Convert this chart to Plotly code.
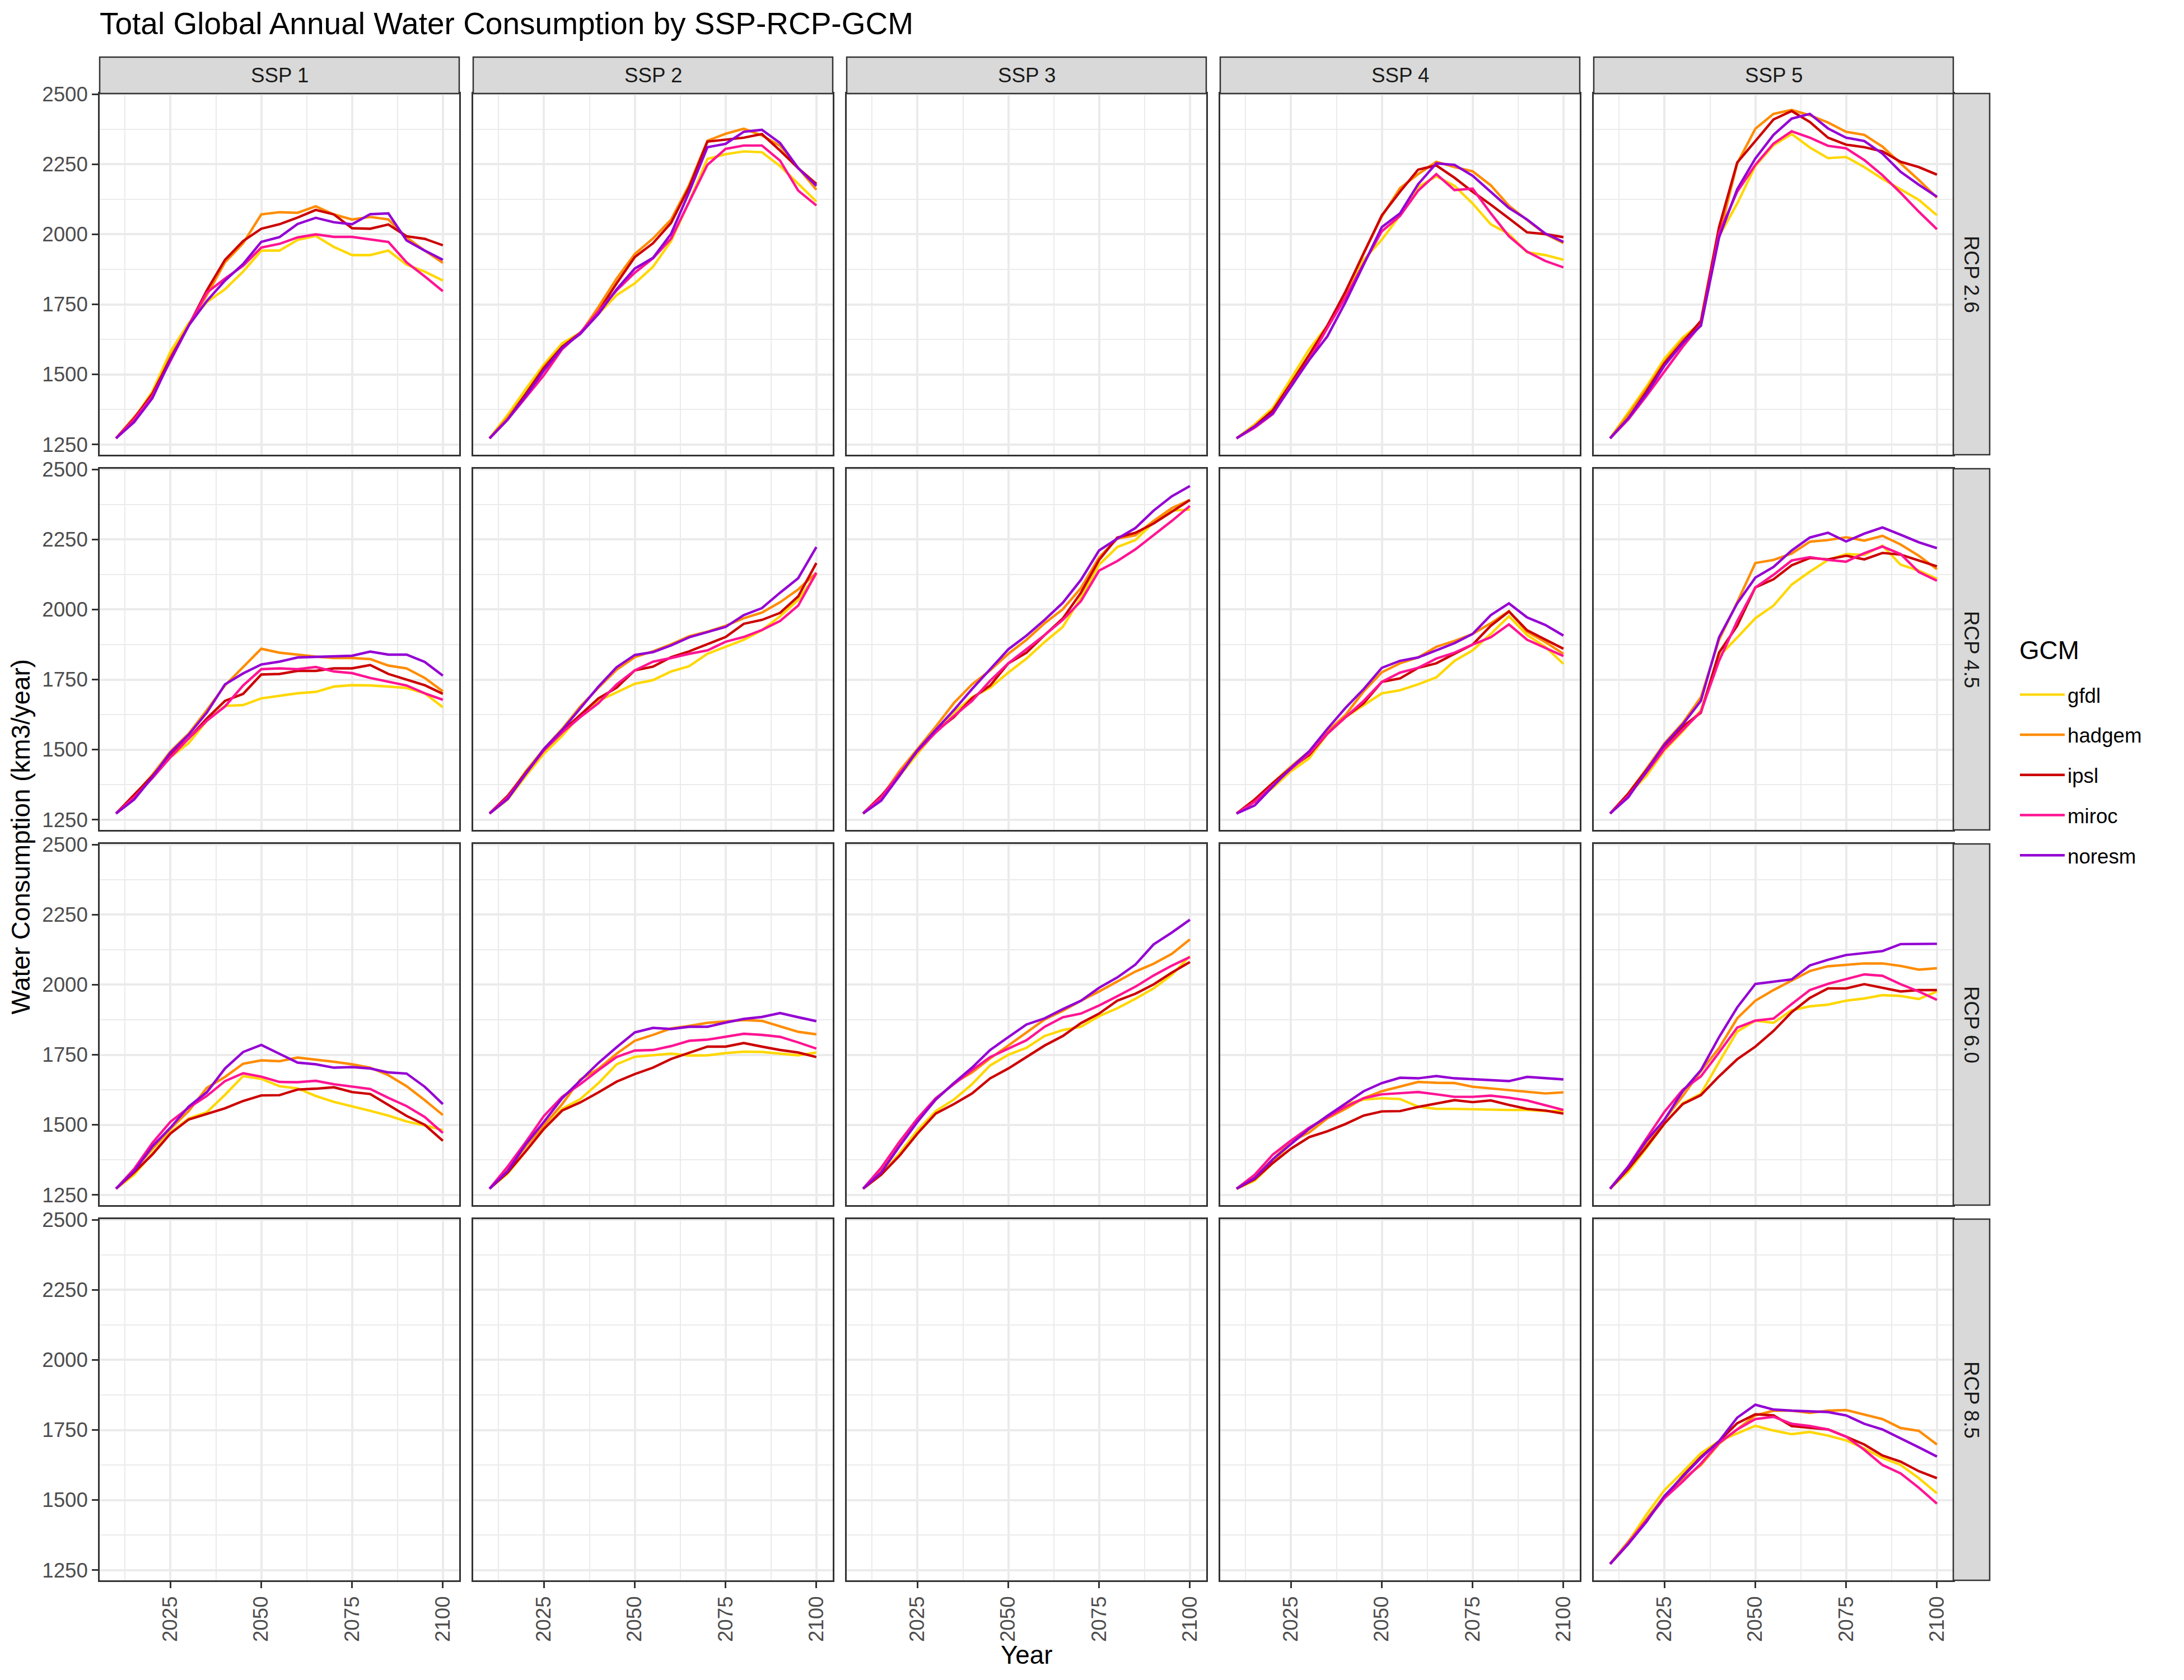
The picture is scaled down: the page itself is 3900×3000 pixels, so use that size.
import plotly.graph_objects as go

# ---------------- data ----------------
years = list(range(2010, 2101, 5))
gcms = ["gfdl", "hadgem", "ipsl", "miroc", "noresm"]
gcm_colors = ["#FFD700", "#FF8C00", "#CC0000", "#FF1493", "#9400D3"]
ssps = ["SSP 1", "SSP 2", "SSP 3", "SSP 4", "SSP 5"]
rcps = ["RCP 2.6", "RCP 4.5", "RCP 6.0", "RCP 8.5"]
x_ticks = [2025, 2050, 2075, 2100]
x_minor = [2012.5, 2037.5, 2062.5, 2087.5]
y_ticks = [1250, 1500, 1750, 2000, 2250, 2500]
y_minor = [1375, 1625, 1875, 2125, 2375]

# RCP 2.6
ssp1_rcp26_gfdl = [1272, 1343, 1439, 1582, 1683, 1758, 1804, 1867, 1942, 1942, 1980, 1994, 1955, 1926, 1926, 1942, 1892, 1867, 1835]
ssp1_rcp26_hadgem = [1272, 1347, 1423, 1565, 1674, 1783, 1900, 1968, 2071, 2079, 2077, 2100, 2071, 2053, 2062, 2053, 1989, 1942, 1898]
ssp1_rcp26_ipsl = [1272, 1343, 1431, 1557, 1674, 1800, 1909, 1976, 2020, 2036, 2060, 2087, 2071, 2022, 2020, 2035, 1993, 1984, 1961]
ssp1_rcp26_miroc = [1272, 1339, 1423, 1548, 1674, 1792, 1842, 1888, 1953, 1966, 1989, 2000, 1991, 1991, 1983, 1973, 1900, 1850, 1797]
ssp1_rcp26_noresm = [1272, 1330, 1415, 1553, 1674, 1762, 1835, 1894, 1973, 1990, 2037, 2059, 2043, 2036, 2072, 2075, 1978, 1942, 1909]

ssp2_rcp26_gfdl = [1272, 1356, 1448, 1536, 1611, 1649, 1716, 1783, 1825, 1884, 1976, 2118, 2269, 2286, 2296, 2293, 2244, 2181, 2117]
ssp2_rcp26_hadgem = [1272, 1347, 1431, 1528, 1599, 1645, 1741, 1842, 1930, 1985, 2053, 2177, 2334, 2359, 2377, 2353, 2316, 2236, 2159]
ssp2_rcp26_ipsl = [1272, 1339, 1431, 1523, 1599, 1649, 1725, 1825, 1919, 1968, 2041, 2169, 2331, 2338, 2345, 2358, 2299, 2236, 2180]
ssp2_rcp26_miroc = [1272, 1339, 1418, 1498, 1590, 1649, 1725, 1800, 1863, 1914, 1985, 2118, 2248, 2305, 2317, 2317, 2263, 2156, 2103]
ssp2_rcp26_noresm = [1272, 1339, 1423, 1515, 1595, 1645, 1716, 1804, 1878, 1916, 2002, 2152, 2311, 2323, 2366, 2373, 2326, 2236, 2173]

ssp4_rcp26_gfdl = [1272, 1322, 1381, 1486, 1590, 1674, 1783, 1909, 1981, 2068, 2169, 2207, 2173, 2110, 2036, 2001, 1936, 1926, 1909]
ssp4_rcp26_hadgem = [1272, 1318, 1372, 1469, 1570, 1674, 1792, 1934, 2064, 2165, 2215, 2259, 2240, 2225, 2175, 2102, 2051, 2001, 1969]
ssp4_rcp26_ipsl = [1272, 1314, 1372, 1469, 1570, 1674, 1796, 1934, 2068, 2152, 2231, 2246, 2202, 2152, 2106, 2057, 2007, 2001, 1990]
ssp4_rcp26_miroc = [1272, 1310, 1359, 1461, 1552, 1666, 1775, 1896, 2011, 2066, 2156, 2215, 2158, 2163, 2075, 1993, 1938, 1905, 1882]
ssp4_rcp26_noresm = [1272, 1314, 1361, 1456, 1552, 1636, 1758, 1892, 2026, 2075, 2179, 2253, 2248, 2209, 2152, 2094, 2053, 2003, 1973]

ssp5_rcp26_gfdl = [1272, 1364, 1456, 1557, 1632, 1683, 1993, 2110, 2244, 2318, 2358, 2310, 2272, 2276, 2240, 2198, 2160, 2123, 2068]
ssp5_rcp26_hadgem = [1272, 1356, 1448, 1545, 1624, 1674, 1993, 2253, 2377, 2430, 2444, 2425, 2399, 2366, 2355, 2313, 2253, 2194, 2131]
ssp5_rcp26_ipsl = [1272, 1343, 1439, 1540, 1616, 1691, 2026, 2256, 2333, 2410, 2440, 2401, 2345, 2320, 2311, 2296, 2259, 2240, 2213]
ssp5_rcp26_miroc = [1272, 1339, 1423, 1511, 1599, 1678, 2005, 2152, 2248, 2324, 2368, 2345, 2316, 2307, 2265, 2211, 2148, 2081, 2018]
ssp5_rcp26_noresm = [1272, 1343, 1431, 1532, 1612, 1674, 1989, 2161, 2271, 2355, 2413, 2430, 2378, 2345, 2333, 2288, 2223, 2177, 2134]

# RCP 4.5
ssp1_rcp45_gfdl = [1272, 1330, 1402, 1473, 1523, 1603, 1656, 1659, 1683, 1691, 1701, 1706, 1725, 1730, 1729, 1725, 1720, 1701, 1651]
ssp1_rcp45_hadgem = [1272, 1335, 1410, 1494, 1557, 1641, 1729, 1796, 1860, 1846, 1838, 1832, 1827, 1827, 1823, 1800, 1790, 1756, 1708]
ssp1_rcp45_ipsl = [1272, 1339, 1406, 1481, 1540, 1611, 1674, 1699, 1768, 1770, 1781, 1781, 1790, 1790, 1802, 1770, 1750, 1730, 1699]
ssp1_rcp45_miroc = [1272, 1330, 1398, 1473, 1540, 1603, 1654, 1729, 1787, 1790, 1787, 1795, 1779, 1773, 1756, 1743, 1729, 1701, 1678]
ssp1_rcp45_noresm = [1272, 1322, 1402, 1490, 1553, 1632, 1733, 1772, 1804, 1814, 1829, 1831, 1835, 1835, 1850, 1839, 1839, 1813, 1764]

ssp2_rcp45_gfdl = [1272, 1322, 1406, 1486, 1549, 1624, 1674, 1704, 1735, 1748, 1779, 1798, 1842, 1867, 1892, 1926, 1976, 2035, 2127]
ssp2_rcp45_hadgem = [1272, 1330, 1423, 1503, 1574, 1654, 1721, 1785, 1830, 1851, 1876, 1905, 1921, 1942, 1969, 1989, 2026, 2072, 2131]
ssp2_rcp45_ipsl = [1272, 1335, 1418, 1498, 1565, 1624, 1683, 1721, 1783, 1796, 1830, 1851, 1877, 1902, 1949, 1963, 1988, 2047, 2166]
ssp2_rcp45_miroc = [1272, 1330, 1414, 1498, 1561, 1616, 1666, 1733, 1783, 1814, 1827, 1842, 1854, 1885, 1902, 1927, 1959, 2014, 2131]
ssp2_rcp45_noresm = [1272, 1324, 1414, 1503, 1570, 1649, 1725, 1794, 1838, 1848, 1872, 1901, 1919, 1938, 1980, 2005, 2060, 2112, 2223]

ssp3_rcp45_gfdl = [1272, 1322, 1406, 1486, 1565, 1632, 1687, 1721, 1775, 1825, 1884, 1938, 2043, 2160, 2223, 2248, 2311, 2353, 2357]
ssp3_rcp45_hadgem = [1272, 1330, 1423, 1503, 1582, 1666, 1733, 1783, 1842, 1892, 1951, 2001, 2077, 2186, 2253, 2265, 2316, 2362, 2391]
ssp3_rcp45_ipsl = [1272, 1335, 1410, 1498, 1565, 1616, 1683, 1729, 1808, 1846, 1909, 1968, 2060, 2177, 2257, 2274, 2307, 2349, 2391]
ssp3_rcp45_miroc = [1272, 1330, 1414, 1494, 1561, 1620, 1674, 1746, 1808, 1858, 1909, 1963, 2030, 2139, 2173, 2215, 2265, 2316, 2370]
ssp3_rcp45_noresm = [1272, 1318, 1406, 1498, 1570, 1641, 1716, 1787, 1858, 1907, 1963, 2024, 2106, 2211, 2253, 2291, 2353, 2404, 2441]

ssp4_rcp45_gfdl = [1272, 1314, 1364, 1423, 1469, 1557, 1616, 1658, 1701, 1712, 1733, 1758, 1817, 1854, 1913, 1976, 1909, 1867, 1806]
ssp4_rcp45_hadgem = [1272, 1322, 1381, 1440, 1494, 1565, 1624, 1708, 1776, 1808, 1829, 1867, 1888, 1913, 1951, 1994, 1921, 1884, 1842]
ssp4_rcp45_ipsl = [1272, 1322, 1381, 1435, 1481, 1557, 1616, 1666, 1742, 1754, 1792, 1808, 1842, 1875, 1942, 1993, 1926, 1892, 1860]
ssp4_rcp45_miroc = [1272, 1314, 1373, 1431, 1486, 1557, 1616, 1674, 1742, 1775, 1792, 1825, 1846, 1875, 1901, 1947, 1892, 1863, 1834]
ssp4_rcp45_noresm = [1272, 1301, 1369, 1435, 1494, 1574, 1649, 1716, 1792, 1817, 1829, 1854, 1880, 1913, 1980, 2022, 1972, 1945, 1907]

ssp5_rcp45_gfdl = [1272, 1339, 1406, 1498, 1565, 1641, 1833, 1900, 1969, 2014, 2089, 2135, 2177, 2198, 2195, 2228, 2160, 2139, 2110]
ssp5_rcp45_hadgem = [1272, 1343, 1431, 1523, 1595, 1687, 1892, 2026, 2166, 2177, 2200, 2242, 2248, 2258, 2246, 2263, 2232, 2192, 2144]
ssp5_rcp45_ipsl = [1272, 1343, 1427, 1515, 1582, 1632, 1846, 1942, 2079, 2108, 2158, 2184, 2179, 2192, 2179, 2202, 2196, 2175, 2154]
ssp5_rcp45_miroc = [1272, 1335, 1418, 1503, 1570, 1635, 1817, 1959, 2079, 2124, 2175, 2187, 2177, 2171, 2201, 2225, 2198, 2134, 2103]
ssp5_rcp45_noresm = [1272, 1330, 1423, 1519, 1590, 1674, 1901, 2022, 2114, 2152, 2211, 2257, 2274, 2243, 2271, 2293, 2267, 2240, 2219]

# RCP 6.0
ssp1_rcp60_gfdl = [1272, 1322, 1398, 1473, 1523, 1545, 1607, 1674, 1664, 1638, 1630, 1603, 1582, 1567, 1550, 1533, 1512, 1498, 1481]
ssp1_rcp60_hadgem = [1272, 1339, 1414, 1486, 1549, 1632, 1671, 1718, 1730, 1727, 1740, 1733, 1725, 1716, 1704, 1677, 1638, 1588, 1535]
ssp1_rcp60_ipsl = [1272, 1330, 1394, 1469, 1519, 1540, 1559, 1585, 1605, 1606, 1626, 1629, 1634, 1617, 1610, 1571, 1532, 1500, 1443]
ssp1_rcp60_miroc = [1272, 1343, 1435, 1511, 1561, 1603, 1656, 1684, 1672, 1653, 1652, 1657, 1645, 1636, 1628, 1596, 1567, 1528, 1471]
ssp1_rcp60_noresm = [1272, 1335, 1423, 1490, 1565, 1616, 1701, 1760, 1785, 1754, 1722, 1716, 1704, 1706, 1701, 1687, 1683, 1636, 1574]

ssp2_rcp60_gfdl = [1272, 1326, 1406, 1486, 1557, 1592, 1649, 1716, 1743, 1748, 1754, 1747, 1748, 1756, 1761, 1760, 1754, 1748, 1758]
ssp2_rcp60_hadgem = [1272, 1339, 1423, 1498, 1574, 1662, 1700, 1754, 1800, 1821, 1844, 1853, 1864, 1869, 1874, 1871, 1852, 1832, 1823]
ssp2_rcp60_ipsl = [1272, 1330, 1406, 1486, 1551, 1580, 1616, 1654, 1681, 1704, 1735, 1756, 1779, 1779, 1792, 1779, 1767, 1758, 1742]
ssp2_rcp60_miroc = [1272, 1351, 1439, 1532, 1600, 1645, 1695, 1742, 1765, 1767, 1781, 1800, 1804, 1814, 1825, 1821, 1814, 1794, 1772]
ssp2_rcp60_noresm = [1272, 1335, 1431, 1511, 1595, 1658, 1721, 1777, 1830, 1846, 1842, 1850, 1850, 1865, 1878, 1885, 1899, 1884, 1870]

ssp3_rcp60_gfdl = [1272, 1322, 1398, 1481, 1549, 1590, 1645, 1712, 1750, 1775, 1817, 1838, 1850, 1888, 1916, 1950, 1987, 2035, 2102]
ssp3_rcp60_hadgem = [1272, 1339, 1431, 1515, 1590, 1649, 1687, 1737, 1783, 1829, 1876, 1907, 1943, 1976, 2011, 2047, 2075, 2110, 2162]
ssp3_rcp60_ipsl = [1272, 1322, 1389, 1469, 1540, 1574, 1612, 1666, 1701, 1742, 1783, 1817, 1863, 1897, 1943, 1968, 2001, 2043, 2081]
ssp3_rcp60_miroc = [1272, 1347, 1439, 1523, 1595, 1645, 1695, 1742, 1771, 1802, 1850, 1884, 1897, 1926, 1959, 1993, 2033, 2068, 2099]
ssp3_rcp60_noresm = [1272, 1330, 1423, 1511, 1590, 1649, 1704, 1767, 1813, 1858, 1880, 1913, 1943, 1989, 2026, 2072, 2144, 2186, 2232]

ssp4_rcp60_gfdl = [1272, 1301, 1364, 1435, 1486, 1532, 1574, 1590, 1595, 1592, 1565, 1557, 1557, 1555, 1553, 1553, 1553, 1549, 1549]
ssp4_rcp60_hadgem = [1272, 1314, 1377, 1440, 1473, 1523, 1557, 1595, 1620, 1636, 1653, 1650, 1649, 1636, 1630, 1625, 1620, 1612, 1616]
ssp4_rcp60_ipsl = [1272, 1306, 1364, 1415, 1456, 1477, 1503, 1533, 1548, 1549, 1564, 1576, 1588, 1581, 1587, 1571, 1557, 1551, 1540]
ssp4_rcp60_miroc = [1272, 1322, 1394, 1444, 1490, 1528, 1565, 1595, 1609, 1613, 1617, 1609, 1600, 1600, 1604, 1597, 1587, 1570, 1553]
ssp4_rcp60_noresm = [1272, 1310, 1377, 1431, 1486, 1532, 1576, 1620, 1649, 1668, 1666, 1674, 1666, 1662, 1659, 1656, 1671, 1667, 1662]

ssp5_rcp60_gfdl = [1272, 1333, 1417, 1505, 1577, 1611, 1724, 1833, 1872, 1864, 1909, 1923, 1929, 1943, 1951, 1963, 1960, 1949, 1976]
ssp5_rcp60_hadgem = [1272, 1345, 1430, 1519, 1603, 1692, 1774, 1880, 1943, 1981, 2015, 2049, 2066, 2072, 2076, 2076, 2067, 2054, 2059]
ssp5_rcp60_ipsl = [1272, 1342, 1421, 1505, 1574, 1606, 1673, 1734, 1779, 1835, 1902, 1953, 1987, 1987, 2002, 1990, 1976, 1981, 1981]
ssp5_rcp60_miroc = [1272, 1352, 1451, 1547, 1625, 1673, 1758, 1847, 1872, 1879, 1931, 1981, 2003, 2019, 2037, 2032, 2002, 1976, 1946]
ssp5_rcp60_noresm = [1272, 1350, 1443, 1519, 1620, 1695, 1813, 1919, 2003, 2012, 2019, 2069, 2089, 2106, 2113, 2120, 2145, 2145, 2146]

# RCP 8.5
ssp5_rcp85_gfdl = [1272, 1350, 1448, 1536, 1600, 1667, 1710, 1738, 1765, 1748, 1735, 1743, 1730, 1713, 1684, 1650, 1625, 1578, 1524]
ssp5_rcp85_hadgem = [1272, 1350, 1431, 1515, 1574, 1625, 1701, 1752, 1802, 1819, 1819, 1811, 1819, 1821, 1806, 1789, 1757, 1747, 1698]
ssp5_rcp85_ipsl = [1272, 1343, 1427, 1510, 1586, 1654, 1710, 1774, 1806, 1802, 1764, 1757, 1752, 1726, 1698, 1659, 1637, 1603, 1578]
ssp5_rcp85_miroc = [1272, 1346, 1426, 1507, 1566, 1630, 1704, 1752, 1789, 1797, 1772, 1764, 1752, 1726, 1679, 1625, 1595, 1544, 1487]
ssp5_rcp85_noresm = [1272, 1343, 1422, 1515, 1583, 1650, 1710, 1794, 1840, 1823, 1819, 1816, 1814, 1802, 1772, 1752, 1721, 1688, 1655]

series = {
    ("SSP 1", "RCP 2.6"): [ssp1_rcp26_gfdl, ssp1_rcp26_hadgem, ssp1_rcp26_ipsl, ssp1_rcp26_miroc, ssp1_rcp26_noresm],
    ("SSP 2", "RCP 2.6"): [ssp2_rcp26_gfdl, ssp2_rcp26_hadgem, ssp2_rcp26_ipsl, ssp2_rcp26_miroc, ssp2_rcp26_noresm],
    ("SSP 4", "RCP 2.6"): [ssp4_rcp26_gfdl, ssp4_rcp26_hadgem, ssp4_rcp26_ipsl, ssp4_rcp26_miroc, ssp4_rcp26_noresm],
    ("SSP 5", "RCP 2.6"): [ssp5_rcp26_gfdl, ssp5_rcp26_hadgem, ssp5_rcp26_ipsl, ssp5_rcp26_miroc, ssp5_rcp26_noresm],
    ("SSP 1", "RCP 4.5"): [ssp1_rcp45_gfdl, ssp1_rcp45_hadgem, ssp1_rcp45_ipsl, ssp1_rcp45_miroc, ssp1_rcp45_noresm],
    ("SSP 2", "RCP 4.5"): [ssp2_rcp45_gfdl, ssp2_rcp45_hadgem, ssp2_rcp45_ipsl, ssp2_rcp45_miroc, ssp2_rcp45_noresm],
    ("SSP 3", "RCP 4.5"): [ssp3_rcp45_gfdl, ssp3_rcp45_hadgem, ssp3_rcp45_ipsl, ssp3_rcp45_miroc, ssp3_rcp45_noresm],
    ("SSP 4", "RCP 4.5"): [ssp4_rcp45_gfdl, ssp4_rcp45_hadgem, ssp4_rcp45_ipsl, ssp4_rcp45_miroc, ssp4_rcp45_noresm],
    ("SSP 5", "RCP 4.5"): [ssp5_rcp45_gfdl, ssp5_rcp45_hadgem, ssp5_rcp45_ipsl, ssp5_rcp45_miroc, ssp5_rcp45_noresm],
    ("SSP 1", "RCP 6.0"): [ssp1_rcp60_gfdl, ssp1_rcp60_hadgem, ssp1_rcp60_ipsl, ssp1_rcp60_miroc, ssp1_rcp60_noresm],
    ("SSP 2", "RCP 6.0"): [ssp2_rcp60_gfdl, ssp2_rcp60_hadgem, ssp2_rcp60_ipsl, ssp2_rcp60_miroc, ssp2_rcp60_noresm],
    ("SSP 3", "RCP 6.0"): [ssp3_rcp60_gfdl, ssp3_rcp60_hadgem, ssp3_rcp60_ipsl, ssp3_rcp60_miroc, ssp3_rcp60_noresm],
    ("SSP 4", "RCP 6.0"): [ssp4_rcp60_gfdl, ssp4_rcp60_hadgem, ssp4_rcp60_ipsl, ssp4_rcp60_miroc, ssp4_rcp60_noresm],
    ("SSP 5", "RCP 6.0"): [ssp5_rcp60_gfdl, ssp5_rcp60_hadgem, ssp5_rcp60_ipsl, ssp5_rcp60_miroc, ssp5_rcp60_noresm],
    ("SSP 5", "RCP 8.5"): [ssp5_rcp85_gfdl, ssp5_rcp85_hadgem, ssp5_rcp85_ipsl, ssp5_rcp85_miroc, ssp5_rcp85_noresm],
}

# ---------------- layout geometry (pixels) ----------------
W, H = 3900, 3000
FONT = "Liberation Sans, Arial, sans-serif"
LEFT0, PW, GX = 178, 642, 25
TOP0, PH, GY = 167, 645, 25
STRIP = 65
GRID = "#EBEBEB"
DARK = "#333333"


def fx(px):
    return px / W


def fy(px):
    return 1 - px / H


all_vals = [v for lst in series.values() for s in lst for v in s]
ylo, yhi = min(all_vals), max(all_vals)
ypad = 0.05 * (yhi - ylo)
y_range = [ylo - ypad, yhi + ypad]
xpad = 0.05 * (years[-1] - years[0])
x_range = [years[0] - xpad, years[-1] + xpad]

fig = go.Figure()
layout = {}
shapes = []
annotations = []
shown = set()

for r, rcp in enumerate(rcps):
    for c, ssp in enumerate(ssps):
        idx = r * len(ssps) + c + 1
        sfx = "" if idx == 1 else str(idx)
        x0 = LEFT0 + c * (PW + GX)
        x1 = x0 + PW
        t0 = TOP0 + r * (PH + GY)
        t1 = t0 + PH
        bottom = r == len(rcps) - 1
        left = c == 0
        layout["xaxis" + sfx] = dict(
            domain=[fx(x0), fx(x1)], range=x_range, anchor="y" + sfx,
            tickmode="array", tickvals=x_ticks, ticktext=[str(v) for v in x_ticks],
            showticklabels=bottom, ticks="outside" if bottom else "",
            ticklen=11, tickwidth=3, tickcolor=DARK, tickangle=-90,
            tickfont=dict(family=FONT, size=36.7, color="#4D4D4D"),
            showgrid=True, gridcolor=GRID, gridwidth=4,
            minor=dict(tickmode="array", tickvals=x_minor, showgrid=True,
                       gridcolor=GRID, gridwidth=2, ticks=""),
            showline=True, linecolor=DARK, linewidth=2.5, mirror=True,
            zeroline=False, fixedrange=True,
        )
        layout["yaxis" + sfx] = dict(
            domain=[fy(t1), fy(t0)], range=y_range, anchor="x" + sfx,
            tickmode="array", tickvals=y_ticks, ticktext=[str(v) for v in y_ticks],
            showticklabels=left, ticks="outside" if left else "",
            ticklen=11, tickwidth=3, tickcolor=DARK,
            tickfont=dict(family=FONT, size=36.7, color="#4D4D4D"),
            showgrid=True, gridcolor=GRID, gridwidth=4,
            minor=dict(tickmode="array", tickvals=y_minor, showgrid=True,
                       gridcolor=GRID, gridwidth=2, ticks=""),
            showline=True, linecolor=DARK, linewidth=2.5, mirror=True,
            zeroline=False, fixedrange=True,
        )
        # top strips
        if r == 0:
            shapes.append(dict(type="rect", xref="paper", yref="paper",
                               x0=fx(x0), x1=fx(x1), y0=fy(t0), y1=fy(t0 - STRIP),
                               fillcolor="#D9D9D9", line=dict(color=DARK, width=2.5),
                               layer="above"))
            annotations.append(dict(text=ssp, xref="paper", yref="paper",
                                    x=fx((x0 + x1) / 2), y=fy(t0 - STRIP / 2),
                                    showarrow=False, xanchor="center", yanchor="middle",
                                    font=dict(family=FONT, size=36.7, color="#1A1A1A")))
        # right strips
        if c == len(ssps) - 1:
            shapes.append(dict(type="rect", xref="paper", yref="paper",
                               x0=fx(x1), x1=fx(x1 + STRIP), y0=fy(t1), y1=fy(t0),
                               fillcolor="#D9D9D9", line=dict(color=DARK, width=2.5),
                               layer="above"))
            annotations.append(dict(text=rcp, xref="paper", yref="paper",
                                    x=fx(x1 + STRIP / 2), y=fy((t0 + t1) / 2),
                                    showarrow=False, textangle=90,
                                    xanchor="center", yanchor="middle",
                                    font=dict(family=FONT, size=36.7, color="#1A1A1A")))
        key = (ssp, rcp)
        if key in series:
            for g, gcm in enumerate(gcms):
                fig.add_trace(go.Scatter(
                    x=years, y=series[key][g], mode="lines", name=gcm,
                    line=dict(color=gcm_colors[g], width=4.4),
                    legendgroup=gcm, showlegend=gcm not in shown,
                    xaxis="x" + sfx, yaxis="y" + sfx, hoverinfo="skip",
                ))
                shown.add(gcm)
        else:
            # empty facet: keep the panel (grid, border, axes) visible
            fig.add_trace(go.Scatter(
                x=[None], y=[None], mode="lines", showlegend=False,
                xaxis="x" + sfx, yaxis="y" + sfx, hoverinfo="skip",
            ))

right_edge = LEFT0 + len(ssps) * PW + (len(ssps) - 1) * GX
bottom_edge = TOP0 + len(rcps) * PH + (len(rcps) - 1) * GY

annotations.append(dict(text="Year", xref="paper", yref="paper",
                        x=fx((LEFT0 + right_edge) / 2), y=fy(2955),
                        showarrow=False, xanchor="center", yanchor="middle",
                        font=dict(family=FONT, size=45.8, color="black")))
annotations.append(dict(text="Water Consumption (km3/year)", xref="paper", yref="paper",
                        x=fx(37), y=fy((TOP0 + bottom_edge) / 2),
                        showarrow=False, textangle=-90, xanchor="center", yanchor="middle",
                        font=dict(family=FONT, size=45.8, color="black")))
annotations.append(dict(text="GCM", xref="paper", yref="paper",
                        x=fx(3604), y=fy(1161),
                        showarrow=False, xanchor="left", yanchor="middle",
                        font=dict(family=FONT, size=45.8, color="black")))

fig.update_layout(
    **layout,
    width=W, height=H,
    margin=dict(l=0, r=0, t=0, b=0),
    template=None,
    paper_bgcolor="white", plot_bgcolor="white",
    font=dict(family=FONT, color="black"),
    title=dict(text="Total Global Annual Water Consumption by SSP-RCP-GCM",
               x=fx(LEFT0), xanchor="left", xref="paper",
               y=fy(42), yanchor="middle", yref="paper",
               font=dict(family=FONT, size=55, color="black")),
    shapes=shapes,
    annotations=annotations,
    showlegend=True,
    legend=dict(x=fx(3602), y=fy(1210), xanchor="left", yanchor="top",
                font=dict(family=FONT, size=36.7, color="black"),
                tracegroupgap=21, bgcolor="rgba(0,0,0,0)", itemwidth=80),
)

fig.write_html("out.html")
